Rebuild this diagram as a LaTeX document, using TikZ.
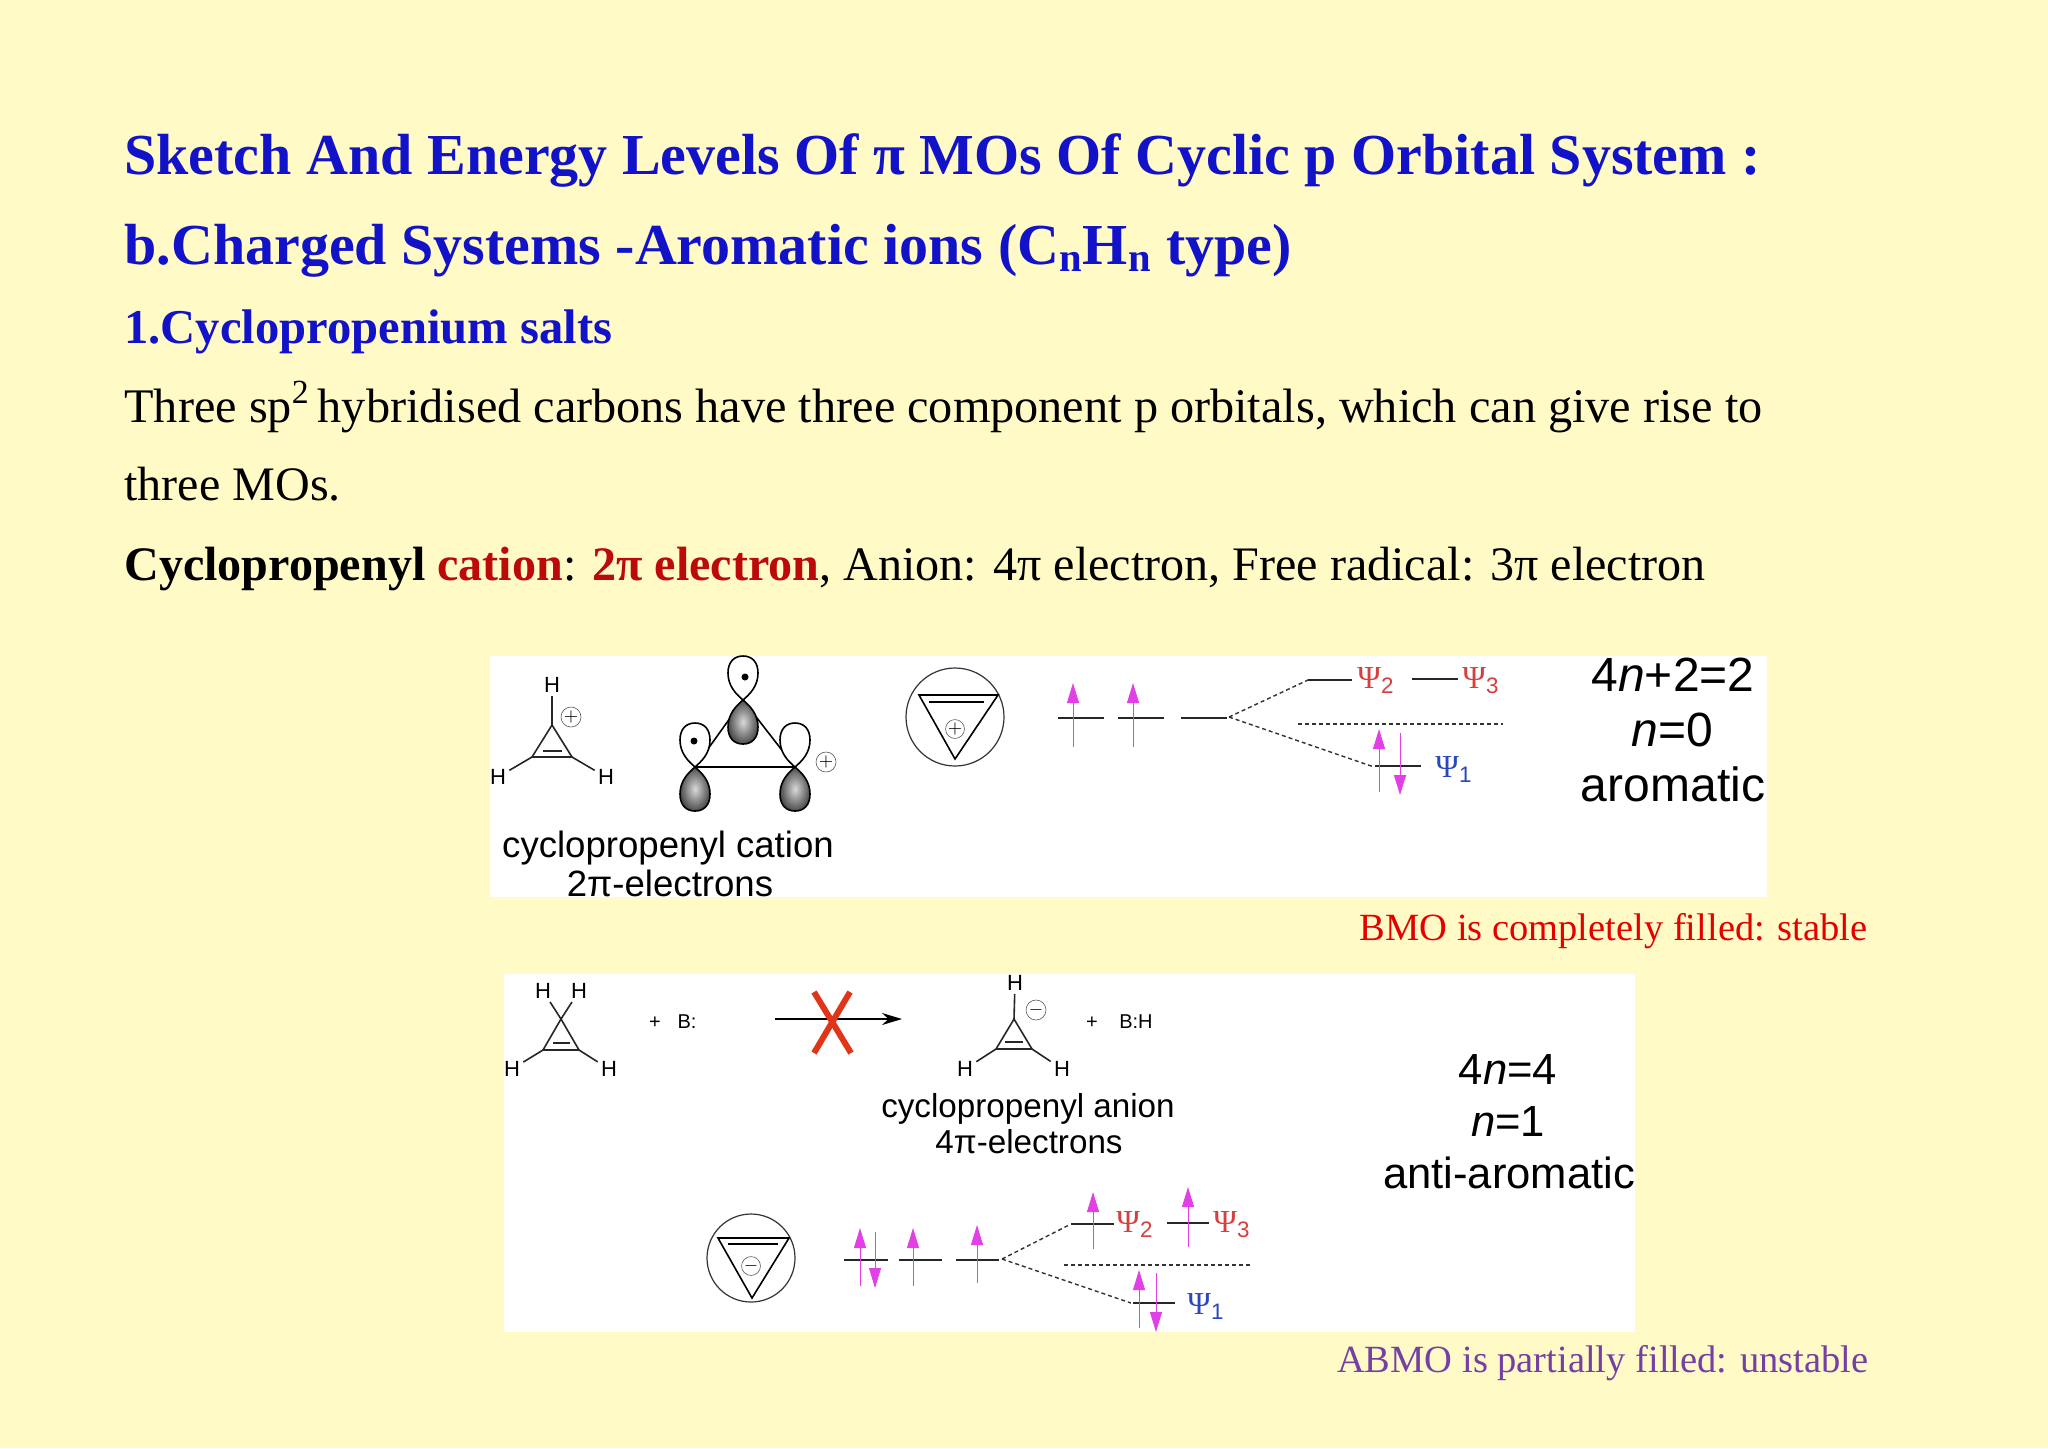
\documentclass[tikz,border=0pt]{standalone}
\usepackage{fontspec}
\setmainfont{Liberation Serif}
\setsansfont{Liberation Sans}
\usepackage{tikz}
\usetikzlibrary{arrows.meta}

\definecolor{slidebg}{HTML}{FFFAC6}
\definecolor{titleblue}{HTML}{1212C8}
\definecolor{darkred}{HTML}{BC0A0A}
\definecolor{softpurple}{HTML}{7440A4}
\definecolor{spinpink}{HTML}{E23FE6}
\definecolor{psired}{HTML}{D5403F}
\definecolor{psiblue}{HTML}{2A48BE}
\definecolor{crossred}{HTML}{E03518}

\newcommand{\lobe}[3]{\draw[shift={(#1,#2)},#3] (0,0) .. controls (-7,6) and (-15,14) .. (-15,27)
  .. controls (-15,38) and (-9,44) .. (0,44) .. controls (9,44) and (15,38) .. (15,27)
  .. controls (15,14) and (7,6) .. (0,0);}

\tikzset{
  titletext/.style={anchor=base west,inner sep=0pt,text=titleblue,font=\fontsize{29}{31}\selectfont\bfseries},
  subtext/.style={anchor=base west,inner sep=0pt,text=titleblue,font=\fontsize{24.3}{26}\selectfont\bfseries},
  bodytext/.style={anchor=base west,inner sep=0pt,font=\fontsize{24.05}{26}\selectfont},
  notetext/.style={anchor=base east,inner sep=0pt,font=\fontsize{19.25}{21}\selectfont},
  figtext/.style={anchor=base,inner sep=0pt,font=\sffamily\fontsize{18.3}{20}\selectfont},
  smallfigtext/.style={anchor=base,inner sep=0pt,font=\sffamily\fontsize{16.6}{18}\selectfont},
  bigtext/.style={anchor=base,inner sep=0pt,font=\sffamily\fontsize{24}{26}\selectfont},
  midtext/.style={anchor=base,inner sep=0pt,font=\sffamily\fontsize{21.8}{24}\selectfont},
  atom/.style={inner sep=1.5pt,font=\sffamily\fontsize{11}{12}\selectfont},
  reagent/.style={anchor=base,inner sep=0pt,font=\sffamily\fontsize{10}{12}\selectfont},
  charge/.style={circle,draw=black!65,line width=0.3pt,inner sep=0pt,minimum size=10pt,font=\fontsize{9}{9}\selectfont},
  bond/.style={line width=0.8pt,black!85},
  level/.style={line width=1pt,black!85},
  splitline/.style={line width=0.7pt,dash pattern=on 2pt off 1.5pt,black!80},
  spin/.style={line width=0.5pt,spinpink,-{Triangle[length=10pt,width=6pt]}},
  psilabel/.style={anchor=base west,inner sep=0pt,font=\fontsize{16}{17}\selectfont},
  whitelobe/.style={yscale=-1,fill=white,line width=0.8pt},
  greylobe/.style={inner color=black!15,outer color=black!70,shading=radial,line width=0.8pt},
}
\newcommand{\psisub}[1]{Ψ\textsubscript{\sffamily #1}}

\begin{document}
\begin{tikzpicture}[x=0.5pt,y=-0.5pt]
\useasboundingbox (0,0) rectangle (2048,1448);
\fill[slidebg] (0,0) rectangle (2048,1448);
\fill[white] (490,656) rectangle (1767,897);
\fill[white] (504,974) rectangle (1635,1332);

\node[titletext] (title1) at (124,174) {Sketch And Energy Levels Of π MOs Of Cyclic p Orbital System :};
\node[titletext] (title2) at (124,264) {b.Charged Systems -Aromatic ions (C\textsubscript{n}H\textsubscript{n} type)};
\node[subtext] (title3) at (124,343) {1.Cyclopropenium salts};
\node[bodytext,font=\fontsize{24.13}{26}\selectfont] (line1) at (124,422) {Three sp\textsuperscript{2}\hspace{-2pt} hybridised carbons have three component p orbitals, which can give rise to};
\node[bodytext] (line2) at (124,500) {three MOs.};
\node[bodytext] (line3) at (124,580) {\textbf{Cyclopropenyl} \textcolor{darkred}{\textbf{cation}}: \textcolor{darkred}{\textbf{2π electron}}, Anion: 4π electron, Free radical: 3π electron};

% cation structure
\coordinate (a1) at (552,725);
\coordinate (a2) at (532,757);
\coordinate (a3) at (572,757);
\node[atom] (h1) at (552,685) {H};
\node[atom] (h2) at (498,777) {H};
\node[atom] (h3) at (606,777) {H};
\draw[bond] (a1) -- (a2) -- (a3) -- cycle;
\draw[bond] (h1) -- (a1);
\draw[bond] (h2) -- (a2);
\draw[bond] (h3) -- (a3);
\draw[bond] (543,751) -- (562,751);
\node[charge] (c1) at (571,717) {$+$};

% p orbitals
\coordinate (o1) at (743,700);
\coordinate (o2) at (695,767);
\coordinate (o3) at (795,767);
\draw[line width=0.8pt] (o1) -- (o2);
\draw[line width=0.8pt] (o1) -- (o3);
\draw[line width=0.6pt] (o2) -- (o3);
\lobe{743}{700}{whitelobe}
\lobe{695}{767}{whitelobe}
\lobe{795}{767}{whitelobe}
\lobe{743}{700}{greylobe}
\lobe{695}{767}{greylobe}
\lobe{795}{767}{greylobe}
\fill (745,677) circle (3.5);
\fill (694,741) circle (3.5);
\node[charge] (c2) at (826,762) {$+$};
\node[figtext] (cat1) at (668,857) {cyclopropenyl cation};
\node[figtext] (cat2) at (670,896) {2π-electrons};

% cation levels
\node[circle,draw=black!80,line width=0.6pt,minimum size=49pt,inner sep=0pt] (ring1) at (955,717) {};
\draw[line width=0.8pt] (919,695) -- (998,695) -- (955,759) -- cycle;
\draw[line width=0.8pt] (929,702) -- (984,702);
\node[charge,minimum size=9pt] (c3) at (955,729) {$+$};
\draw[level] (1058,718) -- (1104,718);
\draw[level] (1118,718) -- (1164,718);
\draw[level] (1181,718) -- (1227,718);
\draw[spin] (1073,747) -- (1073,683);
\draw[spin] (1133,747) -- (1133,683);
\coordinate (s1) at (1229,717);
\coordinate (u1) at (1308,680);
\coordinate (d1) at (1374,767);
\draw[splitline] (s1) -- (u1);
\draw[splitline] (s1) -- (d1);
\draw[level] (1308,680) -- (1352,680);
\draw[level] (1412,679) -- (1458,679);
\draw[splitline] (1298,724) -- (1503,724);
\draw[level] (1375,766) -- (1421,766);
\draw[spin] (1379,792) -- (1379,729);
\draw[spin] (1400,733) -- (1400,795);
\node[psilabel,text=psired] (psi2a) at (1357,688) {\psisub{2}};
\node[psilabel,text=psired] (psi3a) at (1462,688) {\psisub{3}};
\node[psilabel,text=psiblue] (psi1a) at (1435,777) {\psisub{1}};
\node[bigtext] (rule1) at (1673,691) {4\textit{n}+2=2};
\node[bigtext] (rule2) at (1672,746) {\textit{n}=0};
\node[bigtext] (rule3) at (1673,801) {aromatic};
\node[notetext,text=red!90!black] (note1) at (1868,940) {BMO is completely filled: stable};

% cyclopropene
\coordinate (b1) at (561,1019);
\coordinate (b2) at (543,1050);
\coordinate (b3) at (579,1050);
\node[atom] (h4) at (543,991) {H};
\node[atom] (h5) at (579,991) {H};
\node[atom] (h6) at (512,1069) {H};
\node[atom] (h7) at (609,1069) {H};
\draw[bond] (b1) -- (b2) -- (b3) -- cycle;
\draw[bond] (h4) -- (b1);
\draw[bond] (h5) -- (b1);
\draw[bond] (h6) -- (b2);
\draw[bond] (h7) -- (b3);
\draw[bond] (553,1043) -- (570,1043);
\node[reagent] (plus1) at (655,1028) {+};
\node[reagent] (base1) at (687,1028) {B:};

\coordinate (r1) at (775,1019);
\coordinate (r2) at (902,1019);
\draw[line width=0.8pt,-{Stealth[length=10pt,width=6pt]}] (r1) -- (r2);
\draw[line width=3pt,crossred] (814,992) -- (851,1053);
\draw[line width=3pt,crossred] (850,992) -- (814,1053);

% anion structure
\coordinate (e1) at (1014,1019);
\coordinate (e2) at (996,1049);
\coordinate (e3) at (1032,1049);
\node[atom] (h8) at (1015,983) {H};
\node[atom] (h9) at (965,1069) {H};
\node[atom] (h10) at (1062,1069) {H};
\draw[bond] (e1) -- (e2) -- (e3) -- cycle;
\draw[bond] (h8) -- (e1);
\draw[bond] (h9) -- (e2);
\draw[bond] (h10) -- (e3);
\draw[bond] (1005,1042) -- (1023,1042);
\node[charge] (c4) at (1036,1010) {$-$};
\node[reagent] (plus2) at (1092,1028) {+};
\node[reagent] (base2) at (1136,1028) {B:H};
\node[smallfigtext] (an1) at (1028,1117) {cyclopropenyl anion};
\node[smallfigtext] (an2) at (1029,1153) {4π-electrons};
\node[midtext] (rule4) at (1508,1084) {4\textit{n}=4};
\node[midtext] (rule5) at (1508,1136) {\textit{n}=1};
\node[midtext] (rule6) at (1509,1188) {anti-aromatic};

% anion levels
\node[circle,draw=black!80,line width=0.6pt,minimum size=44pt,inner sep=0pt] (ring2) at (751,1258) {};
\draw[line width=0.8pt] (718,1238) -- (789,1238) -- (752,1298) -- cycle;
\draw[line width=0.8pt] (728,1244) -- (778,1244);
\node[charge,minimum size=9pt] (c5) at (751,1266) {$-$};
\draw[level] (844,1260) -- (888,1260);
\draw[level] (899,1260) -- (942,1260);
\draw[level] (956,1260) -- (999,1260);
\draw[spin] (860,1286) -- (860,1228);
\draw[spin] (875,1232) -- (875,1288);
\draw[spin] (913,1286) -- (913,1228);
\draw[spin] (977,1283) -- (977,1225);
\coordinate (s2) at (1002,1259);
\coordinate (u2) at (1069,1225);
\coordinate (d2) at (1131,1303);
\draw[splitline] (s2) -- (u2);
\draw[splitline] (s2) -- (d2);
\draw[level] (1071,1224) -- (1114,1224);
\draw[level] (1167,1223) -- (1209,1223);
\draw[splitline] (1064,1265) -- (1251,1265);
\draw[level] (1133,1303) -- (1175,1303);
\draw[spin] (1093,1249) -- (1093,1192);
\draw[spin] (1188,1247) -- (1188,1187);
\draw[spin] (1139,1328) -- (1139,1270);
\draw[spin] (1156,1273) -- (1156,1332);
\node[psilabel,text=psired] (psi2b) at (1116,1232) {\psisub{2}};
\node[psilabel,text=psired] (psi3b) at (1213,1232) {\psisub{3}};
\node[psilabel,text=psiblue] (psi1b) at (1187,1314) {\psisub{1}};
\node[notetext,text=softpurple] (note2) at (1869,1372) {ABMO is partially filled: unstable};
\end{tikzpicture}
\end{document}
